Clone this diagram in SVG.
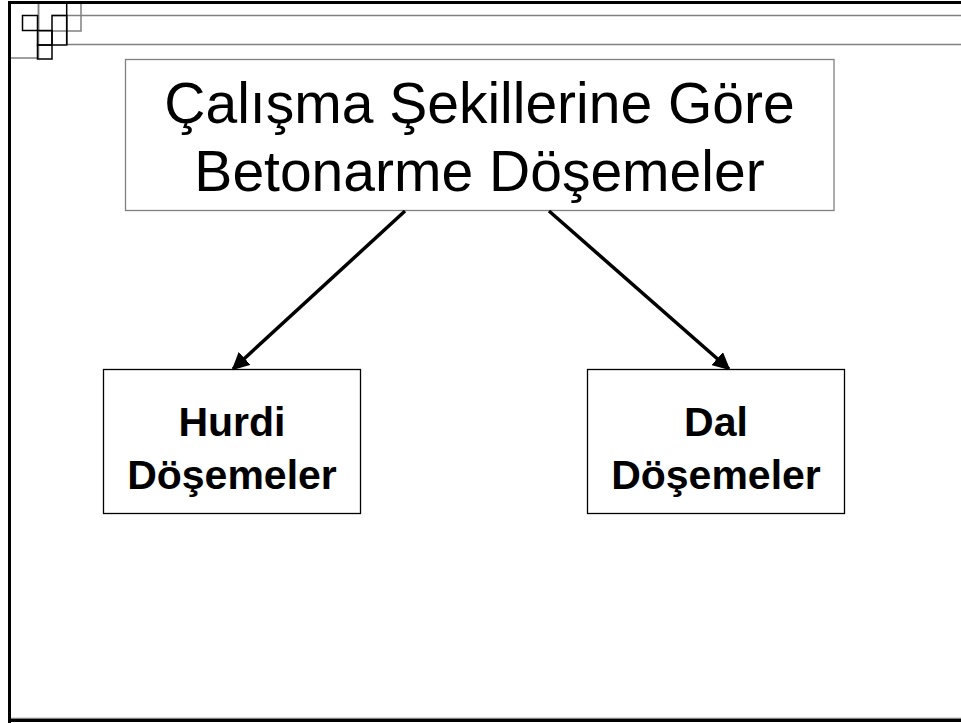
<svg xmlns="http://www.w3.org/2000/svg" width="961" height="723" viewBox="0 0 961 723">
<defs>
<style>
.frame{fill:none;stroke:#000;stroke-width:3}
.grey{fill:none;stroke:#808080;stroke-width:1.5}
.blk{fill:none;stroke:#000;stroke-width:1.5}
.box{fill:#fff;stroke:#000;stroke-width:1.3}
.tbox{fill:#fff;stroke:#808080;stroke-width:1.3}
.title{font-family:"Liberation Sans",Arial,sans-serif;font-size:57px;fill:#000;text-anchor:middle}
.lbl{font-family:"Liberation Sans",Arial,sans-serif;font-size:41px;font-weight:bold;fill:#000;text-anchor:middle}
.conn{stroke:#000;stroke-width:3.5;fill:none}
</style>
<marker id="arr" viewBox="0 0 10 10" refX="9" refY="5" markerWidth="5" markerHeight="5" orient="auto" markerUnits="strokeWidth">
<path d="M0,0 L10,5 L0,10 z" fill="#000"/>
</marker>
</defs>
<rect width="961" height="723" fill="#fff"/>
<g id="frame">
<line class="grey" x1="52" y1="15.5" x2="961" y2="15.5"/>
<line class="grey" x1="67" y1="44.5" x2="961" y2="44.5"/>
<rect class="grey" x="10" y="3" width="28.5" height="55"/>
<rect class="grey" x="38.5" y="3" width="42.5" height="28"/>
<rect class="blk" x="22.5" y="15.5" width="15" height="15"/>
<rect class="blk" x="37.5" y="30.5" width="14.5" height="14.5"/>
<rect class="blk" x="37.5" y="45" width="14.5" height="14"/>
<rect class="blk" x="52" y="15.5" width="14.7" height="29.5"/>
<line class="blk" x1="66.7" y1="3" x2="66.7" y2="45"/>
<line class="grey" x1="11" y1="718.5" x2="961" y2="718.5"/>
<line class="frame" x1="9.5" y1="1" x2="9.5" y2="723"/>
<line class="frame" x1="8" y1="2.5" x2="961" y2="2.5"/>
<line class="frame" x1="8" y1="720.5" x2="961" y2="720.5"/>
</g>
<g id="title">
<rect class="tbox" x="125.5" y="59.5" width="708.5" height="151"/>
<text class="title" x="479.5" y="123">Çalışma Şekillerine Göre</text>
<text class="title" x="479.5" y="191">Betonarme Döşemeler</text>
</g>
<g id="hurdi">
<rect class="box" x="103.5" y="369.5" width="257" height="144"/>
<text class="lbl" x="232" y="436">Hurdi</text>
<text class="lbl" x="232" y="489">Döşemeler</text>
</g>
<g id="dal">
<rect class="box" x="587.5" y="369.5" width="257" height="144"/>
<text class="lbl" x="716" y="436">Dal</text>
<text class="lbl" x="716" y="489">Döşemeler</text>
</g>
<g id="connectors">
<line class="conn" x1="405" y1="211" x2="233" y2="369" marker-end="url(#arr)"/>
<line class="conn" x1="549" y1="211" x2="729" y2="369" marker-end="url(#arr)"/>
</g>
</svg>
